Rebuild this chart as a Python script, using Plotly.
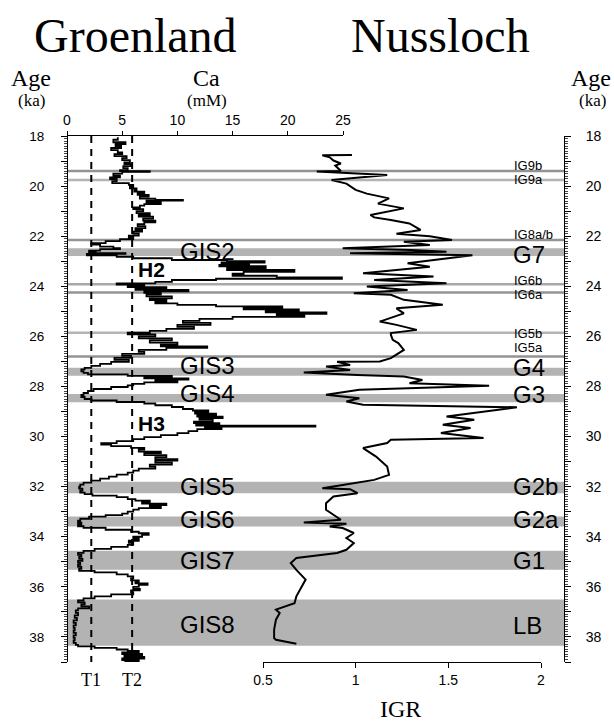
import plotly.graph_objects as go

# ---------------- data ----------------
ca_age = [18.05, 18.15, 18.25, 18.32, 18.40, 18.48, 18.56, 18.65, 18.72, 18.80, 18.88, 18.96,
          19.05, 19.12, 19.20, 19.28, 19.36, 19.40, 19.43, 19.50, 19.58, 19.65, 19.72, 19.80,
          19.88, 19.95, 20.02, 20.09, 20.15, 20.22, 20.28, 20.35, 20.42, 20.50, 20.55, 20.58,
          20.65, 20.72, 20.78, 20.85, 20.92, 21.00, 21.08, 21.15, 21.22, 21.30, 21.38, 21.45,
          21.52, 21.60, 21.68, 21.75, 21.82, 21.90, 21.98, 22.05, 22.12, 22.20, 22.28, 22.34,
          22.42, 22.48, 22.52, 22.58, 22.64, 22.68, 22.71, 22.76, 22.82, 22.88, 22.95, 23.00,
          23.05, 23.10, 23.15, 23.20, 23.27, 23.35, 23.42, 23.50, 23.58, 23.65, 23.70, 23.75,
          23.82, 23.88, 23.93, 23.98, 24.03, 24.08, 24.14, 24.20, 24.26, 24.32, 24.40, 24.48,
          24.55, 24.62, 24.68, 24.74, 24.80, 24.86, 24.92, 24.98, 25.04, 25.10, 25.16, 25.22,
          25.30, 25.38, 25.46, 25.54, 25.62, 25.70, 25.78, 25.85, 25.92, 26.00, 26.08, 26.16,
          26.25, 26.33, 26.40, 26.46, 26.54, 26.62, 26.70, 26.78, 26.86, 26.94, 27.02, 27.10,
          27.18, 27.26, 27.32, 27.40, 27.46, 27.52, 27.58, 27.63, 27.68, 27.73, 27.78, 27.84,
          27.90, 27.96, 28.02, 28.10, 28.18, 28.26, 28.34, 28.42, 28.50, 28.56, 28.62, 28.68,
          28.75, 28.82, 28.90, 28.96, 29.02, 29.08, 29.14, 29.20, 29.26, 29.32, 29.40, 29.46,
          29.52, 29.56, 29.60, 29.66, 29.70, 29.78, 29.86, 29.94, 30.02, 30.10, 30.18, 30.26,
          30.32, 30.38, 30.45, 30.52, 30.60, 30.66, 30.74, 30.82, 30.90, 30.96, 31.04, 31.12,
          31.20, 31.28, 31.36, 31.44, 31.52, 31.60, 31.68, 31.76, 31.84, 31.92, 32.00, 32.08,
          32.16, 32.24, 32.30, 32.36, 32.42, 32.50, 32.56, 32.62, 32.68, 32.74, 32.80, 32.86,
          32.92, 33.00, 33.08, 33.14, 33.20, 33.28, 33.36, 33.44, 33.52, 33.58, 33.64, 33.72,
          33.80, 33.86, 33.92, 34.00, 34.08, 34.16, 34.24, 34.32, 34.40, 34.48, 34.56, 34.64,
          34.72, 34.80, 34.88, 34.96, 35.04, 35.12, 35.20, 35.28, 35.36, 35.42, 35.50, 35.58,
          35.66, 35.74, 35.80, 35.86, 35.92, 36.00, 36.08, 36.14, 36.22, 36.30, 36.38, 36.46,
          36.54, 36.62, 36.70, 36.78, 36.86, 36.94, 37.04, 37.14, 37.24, 37.34, 37.44, 37.54,
          37.64, 37.74, 37.84, 37.94, 38.04, 38.14, 38.24, 38.32, 38.38, 38.44, 38.50, 38.56,
          38.62, 38.68, 38.74, 38.80, 38.86, 38.92, 38.97]
ca_val = [4.6, 4.2, 5.3, 4.4, 4.9, 4.0, 4.6, 5.0, 4.3, 5.4, 5.0, 5.7,
          5.2, 5.8, 5.1, 5.5, 4.8, 7.5, 5.0, 4.2, 4.8, 3.9, 4.5, 4.1,
          5.6, 6.0, 5.7, 6.3, 6.1, 7.0, 6.4, 7.4, 6.6, 8.0, 10.5, 7.2,
          8.5, 7.0, 6.6, 6.0, 6.9, 6.3, 7.5, 6.5, 7.8, 6.9, 8.0, 7.0,
          6.4, 7.1, 6.2, 6.8, 6.0, 6.5, 5.6, 6.0, 4.8, 3.5, 2.2, 3.0,
          4.2, 4.8, 3.0, 2.0, 2.6, 5.3, 1.8, 4.5, 6.0, 9.5, 14.5, 17.9,
          14.0, 16.5, 13.8, 18.0, 14.5, 20.6, 16.0, 15.0, 19.0, 24.9, 13.5, 9.5,
          8.0, 4.5, 7.0, 5.5, 9.0, 6.2, 11.0, 7.0, 8.5, 7.2, 9.5, 7.5,
          9.0, 8.0, 10.0, 13.5, 19.5, 16.0, 21.0, 18.0, 23.5, 19.0, 21.5, 15.0,
          12.0, 10.5, 13.0, 10.0, 11.5, 9.0, 7.5, 5.5, 8.0, 6.5, 9.5, 7.5,
          10.0, 8.5, 12.7, 9.0, 6.5, 7.0, 5.0, 5.8, 4.3, 5.6, 4.0, 3.0,
          2.2, 1.6, 1.3, 1.5, 1.9, 5.5, 9.5, 7.0, 11.0, 8.0, 10.0, 7.0,
          6.0, 5.5, 4.0, 2.4, 1.9, 1.5, 1.3, 1.6, 2.2, 4.5, 7.0, 8.0,
          9.5, 10.5, 11.4, 12.8, 11.6, 13.5, 11.8, 14.1, 12.0, 13.2, 11.5, 13.8,
          11.7, 22.5, 12.5, 14.0, 11.8, 11.0, 10.0, 8.5, 7.0, 6.0, 4.5, 3.1,
          4.0, 5.8, 7.0, 6.5, 8.5, 7.0, 9.0, 8.0, 10.0, 8.0, 9.5, 7.5,
          8.0, 6.5, 6.0, 5.5, 4.5, 3.8, 3.0, 2.2, 1.5, 1.2, 1.1, 1.4,
          1.2, 1.6, 2.3, 4.5, 5.5, 6.2, 7.5, 6.8, 9.0, 7.5, 8.5, 6.5,
          6.0, 5.5, 5.0, 3.5, 2.0, 1.2, 1.0, 1.3, 1.0, 1.5, 3.5, 5.8,
          6.5, 7.4, 6.8, 6.0, 6.5, 5.6, 6.0, 5.5, 4.0, 2.5, 1.5, 1.0,
          1.3, 1.1, 1.4, 1.0, 1.2, 1.0, 1.3, 1.1, 2.5, 4.5, 5.5, 6.0,
          5.8, 6.5, 6.2, 7.3, 6.5, 6.0, 6.6, 5.8, 6.0, 4.0, 2.5, 1.5,
          1.0, 1.6, 1.3, 2.0, 1.0, 0.8, 1.0, 0.7, 0.9, 0.6, 0.8, 0.6,
          0.7, 0.6, 0.8, 0.6, 0.7, 0.6, 0.8, 1.0, 2.5, 4.5, 5.5, 6.5,
          5.0, 6.8, 5.2, 7.0, 5.0, 6.5, 5.2]

igr_age = [18.76, 18.77, 18.85, 18.98, 19.10, 19.18, 19.40, 19.42, 19.56, 19.76, 19.90, 20.15,
           20.30, 20.49, 20.70, 20.89, 21.15, 21.25, 21.35, 21.49, 21.75, 21.90, 22.00, 22.15,
           22.22, 22.35, 22.48, 22.55, 22.62, 22.68, 22.76, 22.95, 23.08, 23.22, 23.48, 23.61,
           23.75, 23.88, 24.01, 24.15, 24.28, 24.34, 24.54, 24.74, 24.88, 25.08, 25.41, 25.54,
           25.74, 25.87, 25.94, 26.14, 26.27, 26.54, 26.74, 26.87, 27.00, 27.01, 27.14, 27.20,
           27.34, 27.44, 27.54, 27.60, 27.74, 27.87, 27.97, 28.13, 28.33, 28.47, 28.60, 28.73,
           28.83, 29.00, 29.20, 29.33, 29.53, 29.66, 29.86, 30.06, 30.13, 30.26, 30.46, 30.80,
           31.20, 31.53, 31.73, 31.93, 32.06, 32.10, 32.26, 32.39, 32.66, 32.92, 33.32, 33.43,
           33.48, 33.59, 33.65, 33.85, 34.05, 34.25, 34.52, 34.65, 34.85, 35.05, 35.32, 35.71,
           35.98, 36.38, 36.65, 36.91, 37.04, 37.31, 37.71, 38.04, 38.11, 38.27]
igr_val = [0.98, 0.82, 0.86, 0.88, 0.92, 0.89, 0.92, 0.79, 1.17, 0.87, 0.95, 1.00,
           1.06, 1.18, 1.12, 1.26, 1.08, 1.10, 1.19, 1.29, 1.35, 1.22, 1.40, 1.52,
           1.26, 1.40, 0.93, 1.30, 1.49, 0.97, 1.63, 1.42, 1.28, 1.40, 1.04, 1.42,
           1.10, 1.49, 1.06, 1.28, 0.99, 1.19, 1.26, 1.47, 1.22, 1.26, 1.13, 1.22,
           1.33, 1.19, 1.19, 1.20, 1.23, 1.26, 1.22, 1.19, 1.13, 0.90, 0.97, 0.84,
           0.97, 0.72, 1.01, 1.26, 1.36, 1.29, 1.72, 1.02, 0.84, 1.02, 0.95, 1.04,
           1.87, 1.69, 1.49, 1.64, 1.47, 1.62, 1.46, 1.69, 1.19, 1.17, 1.04, 1.11,
           1.17, 1.18, 1.10, 0.93, 0.82, 0.97, 1.01, 0.88, 0.84, 0.84, 0.92, 0.72,
           0.95, 0.86, 0.93, 0.99, 0.95, 0.99, 0.95, 0.90, 0.68, 0.65, 0.68, 0.73,
           0.71, 0.68, 0.67, 0.57, 0.59, 0.57, 0.56, 0.56, 0.57, 0.68]

band_top = [22.48, 27.25, 28.30, 31.80, 33.19, 34.56, 36.50]
band_bot = [22.79, 27.57, 28.63, 32.26, 33.59, 35.32, 38.35]
gis_names = ["GIS2", "GIS3", "GIS4", "GIS5", "GIS6", "GIS7", "GIS8"]
gis_label_age = [22.60, 27.17, 28.30, 32.01, 33.33, 34.93, 37.52]
nus_names = ["G7", "G4", "G3", "G2b", "G2a", "G1", "LB"]
nus_label_age = [22.74, 27.24, 28.31, 32.01, 33.33, 34.93, 37.54]

ig_names = ["IG9b", "IG9a", "IG8a/b", "IG6b", "IG6a", "IG5b", "IG5a"]
ig_ages = [19.40, 19.76, 22.15, 23.92, 24.25, 25.86, 26.80]
ig_label_age = [19.18, 19.74, 21.95, 23.75, 24.33, 25.88, 26.43]
ig_colors = ["#939393", "#b4b4b4", "#939393", "#a8a8a8", "#939393", "#b4b4b4", "#939393"]

heinrich_names = ["H2", "H3"]
heinrich_age = [23.31, 29.46]
threshold_names = ["T1", "T2"]
threshold_ca = [2.2, 5.9]

age_ticks = list(range(18, 40))
age_labels = [str(a) if a % 2 == 0 else "" for a in age_ticks]
ca_ticks = [0, 5, 10, 15, 20, 25]
igr_ticks = [0.5, 1, 1.5, 2]
igr_labels = ["0.5", "1", "1.5", "2"]

# ---------------- figure ----------------
W, H = 614, 722
ML, MR, MT, MB = 67, 50, 136, 60
PW, PH = W - ML - MR, H - MT - MB


def px(x):
    return (x - ML) / PW


def py(y):
    return (H - MB - y) / PH


SANS = "Liberation Sans, Arial, Helvetica, sans-serif"
SERIF = "Liberation Serif, Times New Roman, serif"

fig = go.Figure()
fig.add_trace(go.Scatter(x=ca_val, y=ca_age, mode="lines", line=dict(color="black", width=1.8, shape="vh"),
                         xaxis="x", yaxis="y", showlegend=False, hoverinfo="skip"))
fig.add_trace(go.Scatter(x=igr_val, y=igr_age, mode="lines", line=dict(color="black", width=2),
                         xaxis="x2", yaxis="y", showlegend=False, hoverinfo="skip"))
fig.add_trace(go.Scatter(x=[0], y=[18], mode="markers", marker=dict(opacity=0),
                         xaxis="x", yaxis="y2", showlegend=False, hoverinfo="skip"))

shapes = []
for t, b in zip(band_top, band_bot):
    shapes.append(dict(type="rect", xref="paper", x0=0, x1=1, yref="y", y0=t, y1=b,
                       fillcolor="#b3b3b3", line=dict(width=0), layer="below"))
for a, c in zip(ig_ages, ig_colors):
    shapes.append(dict(type="line", xref="paper", x0=0, x1=1, yref="y", y0=a, y1=a,
                       line=dict(color=c, width=2.5), layer="below"))
for c in threshold_ca:
    shapes.append(dict(type="line", xref="x", x0=c, x1=c, yref="y", y0=18, y1=39,
                       line=dict(color="black", width=2, dash="7px,6px"), layer="below"))

ann = []


def add_text(text, x, y, size, family=SANS, xanchor="center", yref="paper", bold=False):
    ann.append(dict(text=("<b>%s</b>" % text) if bold else text, x=x, y=y, xref="paper", yref=yref,
                    xanchor=xanchor, yanchor="middle", showarrow=False, borderpad=0,
                    font=dict(family=family, size=size, color="black")))


add_text("Groenland", px(135), py(36), 48, SERIF)
add_text("Nussloch", px(440), py(36), 48, SERIF)
add_text("Age", px(31), py(78), 24, SERIF)
add_text("(ka)", px(31), py(100), 17, SERIF)
add_text("Ca", px(206), py(78), 24, SERIF)
add_text("(mM)", px(207), py(100), 17, SERIF)
add_text("Age", px(591), py(78), 24, SERIF)
add_text("(ka)", px(592), py(100), 17, SERIF)
add_text("IGR", px(400), py(709), 24, SERIF)
for n, c in zip(threshold_names, threshold_ca):
    ann.append(dict(text=n, x=c, y=py(680), xref="x", yref="paper", xanchor="center", yanchor="middle",
                    showarrow=False, borderpad=0, font=dict(family=SERIF, size=18, color="black")))
for n, a in zip(gis_names, gis_label_age):
    add_text(n, px(179), a, 24, xanchor="left", yref="y")
for n, a in zip(nus_names, nus_label_age):
    add_text(n, px(512), a, 24, xanchor="left", yref="y")
for n, a in zip(ig_names, ig_label_age):
    add_text(n, px(513), a, 13, xanchor="left", yref="y")
for n, a in zip(heinrich_names, heinrich_age):
    add_text(n, px(151), a, 21, xanchor="center", yref="y", bold=True)

tickfont = dict(family=SANS, size=14, color="black")
minor = dict(ticks="outside", ticklen=3, tickwidth=1, tickcolor="#444", dtick=0.1, tick0=18)

fig.update_layout(
    width=W, height=H, margin=dict(l=ML, r=MR, t=MT, b=MB, autoexpand=False),
    paper_bgcolor="white", plot_bgcolor="rgba(0,0,0,0)",
    shapes=shapes, annotations=ann, showlegend=False,
    xaxis=dict(domain=[0, px(343)], range=[0, 25], side="top", anchor="y",
               showline=True, linecolor="black", linewidth=1, ticks="outside", ticklen=4,
               tickcolor="black", tickvals=ca_ticks, tickfont=tickfont, showgrid=False,
               zeroline=False, fixedrange=True),
    xaxis2=dict(domain=[px(263), px(541)], range=[0.5, 2], side="bottom",
                anchor="y", showline=True, linecolor="black", linewidth=1, ticks="outside",
                ticklen=5, tickcolor="black", tickvals=igr_ticks, ticktext=igr_labels,
                tickfont=tickfont, showgrid=False, zeroline=False, fixedrange=True),
    yaxis=dict(domain=[0, 1], range=[39, 18], anchor="free", position=0, showline=True,
               linecolor="black", linewidth=1, ticks="outside", ticklen=6, tickcolor="black",
               tickvals=age_ticks, ticktext=age_labels, tickfont=dict(family=SANS, size=13.5, color="black"),
               ticklabelstandoff=14, minor=minor, showgrid=False, zeroline=False),
    yaxis2=dict(domain=[0, 1], range=[39, 18], overlaying="y", side="right", anchor="free",
                position=1, showline=True, linecolor="black", linewidth=1, ticks="outside",
                ticklen=6, tickcolor="black", tickvals=age_ticks, ticktext=age_labels,
                tickfont=tickfont, ticklabelstandoff=12, minor=minor, showgrid=False,
                zeroline=False),
)

fig.write_html("out.html", config={"displayModeBar": False, "staticPlot": True},
               post_script="document.body.style.margin='0';document.body.style.overflow='hidden';")
